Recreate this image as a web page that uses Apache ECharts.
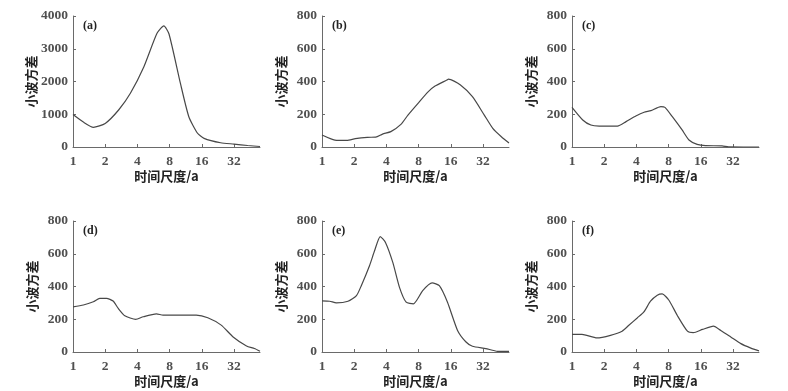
<!DOCTYPE html>
<html>
<head>
<meta charset="utf-8">
<script src="https://cdn.jsdelivr.net/npm/echarts@6/dist/echarts.min.js"></script>
<style>html,body{margin:0;padding:0;background:#fff}#c{width:788px;height:391px}</style>
</head>
<body>
<div id="c"></div>
<script>
// ---- data (scale in years, wavelet variance) ----
const panelLabels = ['(a)', '(b)', '(c)', '(d)', '(e)', '(f)'];
const yMaxes = [4000, 800, 800, 800, 800, 800];
const yIntervals = [1000, 200, 200, 200, 200, 200];
const xMin = 1;
const xMax = 56;
const yName = '小波方差';
const xName = '时间尺度/a';

const scaleA = [1, 1.25, 1.55, 2, 2.67, 3.44, 4.6, 6.1, 7.07, 7.9, 10.1, 12.1, 14.6, 16.8, 24, 32, 43, 56];
const varA   = [990, 760, 600, 720, 1130, 1640, 2450, 3470, 3700, 3450, 1940, 925, 420, 265, 130, 90, 45, 15];

const scaleB = [1, 1.32, 1.71, 2.05, 2.65, 3.18, 3.68, 4.4, 5.5, 6.36, 7.9, 9.86, 11.4, 14.7, 15.2, 19.7, 25.5, 32.9, 39.5, 47.5, 56];
const varB   = [73, 42, 40, 51, 59, 60, 79, 94, 140, 195, 267, 338, 372, 409, 415, 379, 307, 195, 114, 63, 25];

const scaleC = [1, 1.26, 1.5, 1.8, 2.66, 3.2, 3.95, 4.72, 5.46, 6.77, 7.4, 8.67, 10.7, 12.4, 14.8, 17.7, 25.3, 29, 56];
const varC   = [242, 165, 134, 128, 128, 155, 189, 212, 222, 246, 242, 185, 104, 43, 16, 8, 7, 1, 0];

const scaleD = [1, 1.25, 1.55, 1.78, 2.06, 2.37, 2.65, 3.05, 3.86, 4.53, 6.03, 6.95, 14.2, 18.2, 24.3, 31.4, 41.9, 49.6, 56];
const varD   = [276, 287, 307, 328, 328, 311, 266, 221, 199, 215, 233, 225, 225, 209, 164, 92, 37, 21, 5];

const scaleE = [1, 1.18, 1.36, 1.75, 2.1, 2.33, 2.78, 3.1, 3.5, 3.92, 4.59, 5.3, 6.12, 7.15, 8.74, 10.7, 12.5, 14.9, 18.5, 22.2, 25.5, 34, 43.7, 56];
const varE   = [312, 310, 300, 310, 344, 405, 527, 618, 705, 669, 547, 395, 304, 294, 375, 422, 405, 304, 132, 61, 35, 21, 4, 4];

const scaleF = [1, 1.24, 1.71, 2.29, 2.94, 3.4, 4.07, 4.7, 5.42, 6.27, 6.97, 8.06, 9.65, 12, 13.6, 16.6, 21, 24.6, 30.5, 37.9, 47, 56];
const varF   = [108, 108, 86, 102, 127, 163, 208, 245, 310, 347, 355, 316, 223, 127, 118, 138, 158, 132, 92, 51, 24, 7];

const scales = [scaleA, scaleB, scaleC, scaleD, scaleE, scaleF];
const values = [varA, varB, varC, varD, varE, varF];

// ---- layout ----
const lefts = [73, 322, 572];
const tops = [16, 221];
const gw = 187, gh = 131;
const axisColor = '#6a6a6a';
const textColor = '#505050';
const numFont = 'Liberation Serif';
const cjkFont = 'Noto Sans CJK SC';

const grids = [], xAxes = [], yAxes = [], series = [], titles = [];
for (let i = 0; i < 6; i++) {
  const col = i % 3, row = Math.floor(i / 3);
  grids.push({left: lefts[col], top: tops[row], width: gw, height: gh, containLabel: false});
  xAxes.push({
    gridIndex: i, type: 'log', logBase: 2, min: xMin, max: xMax,
    name: xName, nameLocation: 'middle', nameGap: 21,
    nameTextStyle: {fontFamily: cjkFont, fontWeight: 'bold', fontSize: 13, color: '#222'},
    axisLine: {show: true, lineStyle: {color: axisColor, width: 1}},
    axisTick: {show: true, inside: true, length: 3, lineStyle: {color: axisColor}},
    axisLabel: {fontFamily: numFont, fontWeight: 'bold', fontSize: 13.5, color: textColor, margin: 8,
      showMaxLabel: false, hideOverlap: false, formatter: v => String(Math.round(v))},
    splitLine: {show: false}, minorTick: {show: false}
  });
  yAxes.push({
    gridIndex: i, type: 'value', min: 0, max: yMaxes[i], interval: yIntervals[i],
    name: yName, nameLocation: 'middle', nameGap: 34,
    nameTextStyle: {fontFamily: cjkFont, fontWeight: 'bold', fontSize: 13, color: '#222'},
    axisLine: {show: true, lineStyle: {color: axisColor, width: 1}},
    axisTick: {show: true, inside: true, length: 3, lineStyle: {color: axisColor}},
    axisLabel: {fontFamily: numFont, fontWeight: 'bold', fontSize: 13.5, color: textColor, margin: 5,
      formatter: v => String(v)},
    splitLine: {show: false}
  });
  series.push({
    type: 'line', xAxisIndex: i, yAxisIndex: i,
    data: scales[i].map((s, k) => [s, values[i][k]]),
    showSymbol: false, smooth: 0.2,
    lineStyle: {color: '#484848', width: 1.2}
  });
  titles.push({
    text: panelLabels[i], left: lefts[col] + 5, top: tops[row] - 1,
    textStyle: {fontFamily: numFont, fontWeight: 'bold', fontSize: 12, color: '#222'}
  });
}

const chart = echarts.init(document.getElementById('c'), null, {renderer: 'canvas'});
chart.setOption({
  animation: false,
  backgroundColor: '#fff',
  title: titles,
  grid: grids, xAxis: xAxes, yAxis: yAxes, series: series
});
</script>
</body>
</html>
